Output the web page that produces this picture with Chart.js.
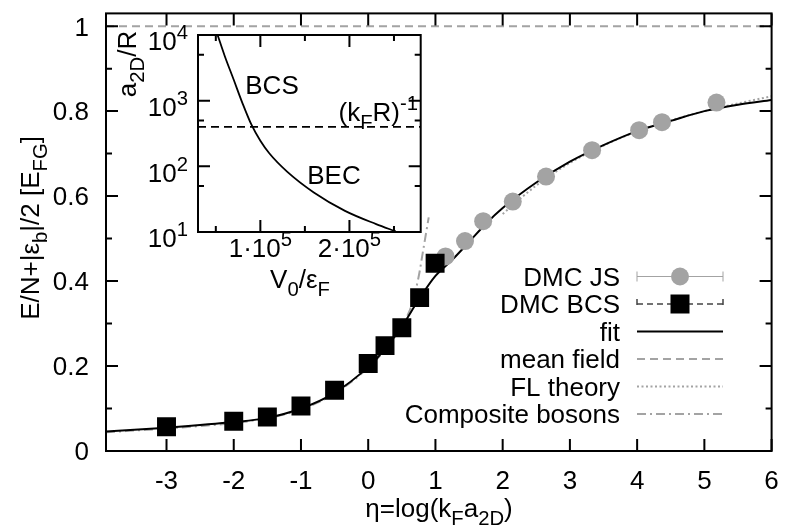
<!DOCTYPE html>
<html>
<head>
<meta charset="utf-8">
<script src="https://cdn.jsdelivr.net/npm/chart.js@4"></script>
<style>
  body { margin: 0; background: #fff; }
  #wrap { position: relative; width: 785px; height: 529px; }
  #main { position: absolute; left: 0; top: 0; width: 785px; height: 529px; }
  #inset { position: absolute; left: 100px; top: 20px; width: 340px; height: 280px; }
</style>
</head>
<body>
<div id="wrap">
  <canvas id="main" width="785" height="529"></canvas>
  <canvas id="inset" width="340" height="280"></canvas>
</div>
<script>
const FONT = '"Liberation Sans", Arial, Helvetica, sans-serif';
const GRAY = '#a3a3a3';

// main panel: DMC points
const etaJS = [1.15, 1.44, 1.71, 2.15, 2.645, 3.33, 4.03, 4.37, 5.18];
const eJS = [0.458, 0.494, 0.541, 0.587, 0.646, 0.708, 0.755, 0.774, 0.820];
const etaBCS = [-3, -2, -1.5, -1, -0.5, 0, 0.25, 0.5, 0.765, 0.995];
const eBCS = [0.057, 0.070, 0.080, 0.106, 0.143, 0.206, 0.248, 0.290, 0.361, 0.442];

// curves
const etaFit = [-3.9, -3, -2, -1.5, -1, -0.5, 0, 0.25, 0.5, 0.75, 1, 1.25, 1.5, 1.75, 2, 2.5, 3, 3.5, 4, 4.5, 5, 5.5, 6];
const eFit = [0.046, 0.055, 0.068, 0.078, 0.100, 0.137, 0.198, 0.240, 0.293, 0.356, 0.412, 0.450, 0.492, 0.535, 0.572, 0.632, 0.681, 0.720, 0.753, 0.777, 0.800, 0.815, 0.826];
const etaFL = [2.0, 2.5, 3.0, 3.5, 4.0, 4.5, 5.0, 5.5, 6.0];
const eFL = [0.558, 0.625, 0.678, 0.719, 0.752, 0.778, 0.800, 0.818, 0.835];
const etaCB = [-3.9, -3, -2, -1.5, -1, -0.5, 0, 0.25, 0.5, 0.65, 0.75, 0.82, 0.9];
const eCB = [0.044, 0.053, 0.066, 0.077, 0.098, 0.135, 0.196, 0.238, 0.295, 0.345, 0.41, 0.475, 0.55];
const etaMF = [-3.9, 6];
const eMF = [1, 1];

const xTicks = [-3, -2, -1, 0, 1, 2, 3, 4, 5, 6];
const yTicks = [0, 0.2, 0.4, 0.6, 0.8, 1];
const yMinor = [0.1, 0.3, 0.5, 0.7, 0.9];

const legendLabels = ['DMC JS', 'DMC BCS', 'fit', 'mean field', 'FL theory', 'Composite bosons'];

// inset: a2D/R against V0/eF
const V0 = [0.52e5, 0.6e5, 0.7e5, 0.8e5, 0.9e5, 1.0e5, 1.1e5, 1.3e5, 1.6e5, 1.95e5, 2.3e5, 2.52e5];
const a2D = [10000, 4800, 2100, 910, 430, 245, 158, 83, 40, 21, 13.2, 10.2];
const kFRinv = 400;
const insetX = [3e4, 2.8e5];
const insetXTicks = [1e5, 2e5];
const insetXMinor = [0.5e5, 1.5e5, 2.5e5];
const insetYTicks = [10, 100, 1000, 10000];
const insetYMinor = [50, 500, 5000];

const pts = (xs, ys) => xs.map((x, i) => ({ x, y: ys[i] }));

// text with sub/superscripts, y is the middle of capitals
function richText(ctx, parts, x, y, size, align, rot) {
  const small = size * 0.78;
  const widths = parts.map(([t, m]) => {
    ctx.font = (m ? small : size) + 'px ' + FONT;
    return ctx.measureText(t).width;
  });
  const total = widths.reduce((s, w) => s + w, 0);
  ctx.save();
  ctx.translate(x, y);
  if (rot) ctx.rotate(rot);
  let cx = align === 'center' ? -total / 2 : align === 'right' ? -total : 0;
  ctx.textAlign = 'left';
  ctx.textBaseline = 'alphabetic';
  ctx.fillStyle = '#000';
  parts.forEach(([t, m], i) => {
    ctx.font = (m ? small : size) + 'px ' + FONT;
    const dy = m === 'sub' ? size * 0.3 : m === 'sup' ? -size * 0.42 : 0;
    ctx.fillText(t, cx, size * 0.36 + dy);
    cx += widths[i];
  });
  ctx.restore();
}

function inwardTicks(ctx, a, xs, vals, len, horiz) {
  vals.forEach(v => {
    const p = xs.getPixelForValue(v);
    if (horiz) {
      ctx.moveTo(p, a.bottom); ctx.lineTo(p, a.bottom - len);
      ctx.moveTo(p, a.top); ctx.lineTo(p, a.top + len);
    } else {
      ctx.moveTo(a.left, p); ctx.lineTo(a.left + len, p);
      ctx.moveTo(a.right, p); ctx.lineTo(a.right - len, p);
    }
  });
}

const mainDecor = {
  id: 'mainDecor',
  afterDatasetsDraw(chart) {
    const { ctx, chartArea: a, scales: { x, y } } = chart;
    ctx.save();
    ctx.strokeStyle = '#000';
    ctx.lineWidth = 2;
    ctx.beginPath();
    inwardTicks(ctx, a, x, xTicks, 12, true);
    inwardTicks(ctx, a, y, yTicks, 12, false);
    inwardTicks(ctx, a, y, yMinor, 6, false);
    ctx.stroke();
    ctx.strokeRect(a.left, a.top, a.width, a.height);

    // tick labels
    xTicks.forEach(v => richText(ctx, [[String(v), '']], x.getPixelForValue(v), a.bottom + 29, 26, 'center'));
    yTicks.forEach(v => richText(ctx, [[String(v), '']], a.left - 17, y.getPixelForValue(v), 26, 'right'));

    // legend
    const tx = 620, x0 = 637, x1 = 723, xm = 680;
    legendLabels.forEach((lab, i) => {
      const ly = 276.5 + i * 27.5;
      richText(ctx, [[lab, '']], tx, ly, 26, 'right');
      ctx.save();
      ctx.beginPath();
      if (i === 0) {
        ctx.strokeStyle = GRAY; ctx.lineWidth = 1;
        ctx.moveTo(x0, ly); ctx.lineTo(x1, ly);
        ctx.moveTo(x0, ly - 5); ctx.lineTo(x0, ly + 5);
        ctx.moveTo(x1, ly - 5); ctx.lineTo(x1, ly + 5);
        ctx.stroke();
        ctx.fillStyle = GRAY;
        ctx.beginPath(); ctx.arc(xm, ly, 9, 0, Math.PI * 2); ctx.fill();
      } else if (i === 1) {
        ctx.strokeStyle = '#444'; ctx.lineWidth = 1.5;
        ctx.setLineDash([6, 4]);
        ctx.moveTo(x0, ly); ctx.lineTo(x1, ly);
        ctx.moveTo(x0, ly - 5); ctx.lineTo(x0, ly + 5);
        ctx.moveTo(x1, ly - 5); ctx.lineTo(x1, ly + 5);
        ctx.stroke();
        ctx.fillStyle = '#000';
        ctx.fillRect(xm - 9.5, ly - 9.5, 19, 19);
      } else {
        const dashes = [[], [8, 5], [2, 2.5], [9, 4, 2, 4]][i - 2];
        ctx.strokeStyle = i === 2 ? '#000' : GRAY;
        ctx.lineWidth = 2;
        ctx.setLineDash(dashes);
        ctx.moveTo(x0, ly); ctx.lineTo(x1, ly);
        ctx.stroke();
      }
      ctx.restore();
    });

    // axis titles
    richText(ctx, [['η=log(k', ''], ['F', 'sub'], ['a', ''], ['2D', 'sub'], [')', '']], 439, 508, 26, 'center');
    richText(ctx, [['E/N+|ε', ''], ['b', 'sub'], ['|/2 [E', ''], ['FG', 'sub'], [']', '']], 30, 228, 26, 'center', -Math.PI / 2);
    ctx.restore();
  }
};

new Chart(document.getElementById('main'), {
  type: 'line',
  data: {
    datasets: [
      { label: 'DMC BCS', data: pts(etaBCS, eBCS), showLine: false, pointStyle: 'rect', pointRadius: 13.4,
        backgroundColor: '#000', borderWidth: 0, order: 0 },
      { label: 'DMC JS', data: pts(etaJS, eJS), showLine: false, pointStyle: 'circle', pointRadius: 9,
        backgroundColor: GRAY, borderWidth: 0, order: 1 },
      { label: 'fit', data: pts(etaFit, eFit), borderColor: '#000', borderWidth: 2, pointRadius: 0,
        cubicInterpolationMode: 'monotone', order: 2 },
      { label: 'Composite bosons', data: pts(etaCB, eCB), borderColor: GRAY, borderWidth: 2, pointRadius: 0,
        borderDash: [9, 4, 2, 4], cubicInterpolationMode: 'monotone', order: 3 },
      { label: 'FL theory', data: pts(etaFL, eFL), borderColor: GRAY, borderWidth: 2, pointRadius: 0,
        borderDash: [2, 2.5], cubicInterpolationMode: 'monotone', order: 4 },
      { label: 'mean field', data: pts(etaMF, eMF), borderColor: GRAY, borderWidth: 2, pointRadius: 0,
        borderDash: [8, 5], order: 5 }
    ]
  },
  options: {
    responsive: false,
    animation: false,
    devicePixelRatio: 1,
    layout: { padding: { left: 0, right: 13, top: 2, bottom: 0 } },
    plugins: { legend: { display: false }, tooltip: { enabled: false } },
    scales: {
      x: {
        type: 'linear', min: -3.9, max: 6,
        afterFit: s => { s.height = 78; },
        grid: { display: false, drawTicks: false },
        border: { display: false },
        ticks: { display: false }
      },
      y: {
        type: 'linear', min: 0, max: 1.03,
        afterFit: s => { s.width = 106; },
        grid: { display: false, drawTicks: false },
        border: { display: false },
        ticks: { display: false }
      }
    }
  },
  plugins: [mainDecor]
});

const insetDecor = {
  id: 'insetDecor',
  beforeDatasetsDraw(chart) {
    const { ctx, chartArea: a } = chart;
    ctx.save();
    ctx.fillStyle = '#fff';
    ctx.fillRect(a.left, a.top, a.width, a.height);
    ctx.restore();
  },
  afterDatasetsDraw(chart) {
    const { ctx, chartArea: a, scales: { x, y } } = chart;
    ctx.save();
    ctx.strokeStyle = '#000';
    ctx.lineWidth = 2;
    ctx.beginPath();
    inwardTicks(ctx, a, x, insetXTicks, 12, true);
    inwardTicks(ctx, a, x, insetXMinor, 6, true);
    inwardTicks(ctx, a, y, insetYTicks, 12, false);
    inwardTicks(ctx, a, y, insetYMinor, 6, false);
    ctx.stroke();
    ctx.strokeRect(a.left, a.top, a.width, a.height);

    insetYTicks.forEach(v => {
      richText(ctx, [['10', ''], [String(Math.round(Math.log10(v))), 'sup']], a.left - 10, y.getPixelForValue(v) + 6, 26, 'right');
    });
    insetXTicks.forEach(v => {
      richText(ctx, [[(v / 1e5) + '·10', ''], ['5', 'sup']], x.getPixelForValue(v), a.bottom + 16, 26, 'center');
    });
    richText(ctx, [['V', ''], ['0', 'sub'], ['/ε', ''], ['F', 'sub']], 200, 259, 26, 'center');
    richText(ctx, [['a', ''], ['2D', 'sub'], ['/R', '']], 27, 44, 26, 'center', -Math.PI / 2);
    richText(ctx, [['BCS', '']], 172, 65, 26, 'center');
    richText(ctx, [['BEC', '']], 234, 155, 26, 'center');
    richText(ctx, [['(k', ''], ['F', 'sub'], ['R)', ''], ['-1', 'sup']], 318, 92, 26, 'right');
    ctx.restore();
  }
};

new Chart(document.getElementById('inset'), {
  type: 'line',
  data: {
    datasets: [
      { data: pts(V0, a2D), borderColor: '#000', borderWidth: 1.8, pointRadius: 0, cubicInterpolationMode: 'monotone' },
      { data: pts(insetX, [kFRinv, kFRinv]), borderColor: '#000', borderWidth: 1.8, pointRadius: 0, borderDash: [8, 5] }
    ]
  },
  options: {
    responsive: false,
    animation: false,
    devicePixelRatio: 1,
    layout: { padding: { left: 0, right: 19.3, top: 15, bottom: 0 } },
    plugins: { legend: { display: false }, tooltip: { enabled: false } },
    scales: {
      x: {
        type: 'linear', min: insetX[0], max: insetX[1],
        afterFit: s => { s.height = 68; },
        grid: { display: false, drawTicks: false },
        border: { display: false },
        ticks: { display: false }
      },
      y: {
        type: 'logarithmic', min: 10, max: 1e4,
        afterFit: s => { s.width = 98; },
        grid: { display: false, drawTicks: false },
        border: { display: false },
        ticks: { display: false }
      }
    }
  },
  plugins: [insetDecor]
});
</script>
</body>
</html>
